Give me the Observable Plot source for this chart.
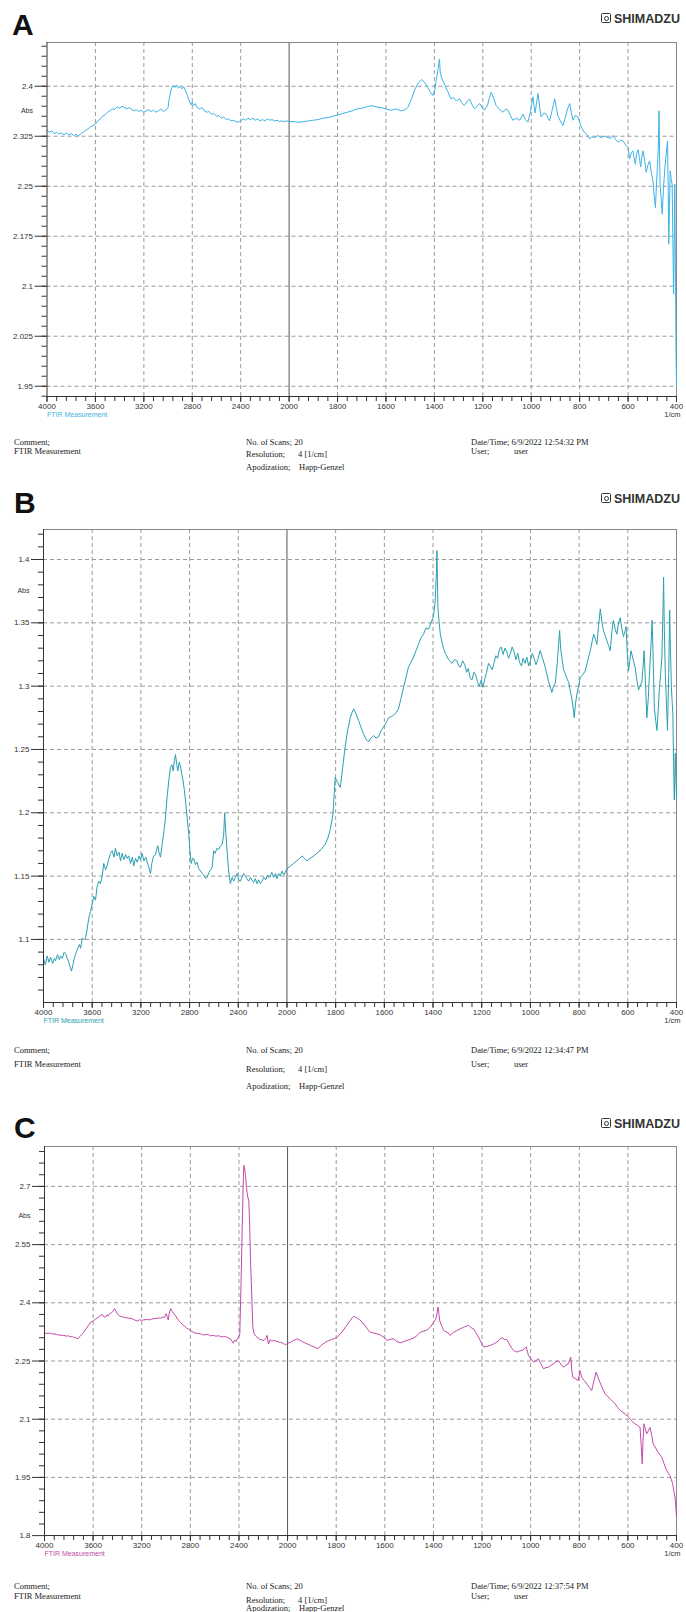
<!DOCTYPE html>
<html><head><meta charset="utf-8">
<script src="https://cdn.jsdelivr.net/npm/d3@7"></script>
<script src="https://cdn.jsdelivr.net/npm/@observablehq/plot@0.6"></script>
<style>
html,body{margin:0;padding:0;background:#fff}
body{width:686px;height:1612px;position:relative;overflow:hidden}
.abs{position:absolute;white-space:pre;line-height:1}
.letter{font:bold 30px "Liberation Sans",Arial,sans-serif;color:#111}
.logo{font:bold 12.5px "Liberation Sans",Arial,sans-serif;color:#333}
.icon{position:absolute;width:8px;height:8px;border:1.5px solid #333;border-radius:1.5px}
.icon::after{content:"";position:absolute;left:1.5px;top:1.5px;width:3px;height:3px;border:1px solid #333;border-radius:50%}
.foot{font:8.5px "Liberation Serif","Times New Roman",serif;color:#222}
.plotwrap{position:absolute;left:0}
</style></head><body>
<script>
// ---------------- DATA ----------------
const xTicks = [4000, 3600, 3200, 2800, 2400, 2000, 1800, 1600, 1400, 1200, 1000, 800, 600, 400];

// Panel A
const yTicksA = [1.95, 2.025, 2.1, 2.175, 2.25, 2.325, 2.4];
const wnA = [4000,3980,3960,3940,3920,3900,3880,3860,3840,3820,3800,3780,3760,3740,3720,3700,3680,3660,3640,3620,3600,3580,3560,3540,3520,3500,3480,3460,3440,3420,3400,3380,3360,3340,3320,3300,3280,3260,3240,3220,3200,3180,3160,3140,3120,3100,3080,3060,3040,3020,3000,2990,2975,2960,2945,2930,2915,2900,2885,2870,2855,2840,2825,2810,2800,2790,2775,2760,2740,2720,2700,2680,2660,2640,2620,2600,2580,2560,2540,2520,2500,2480,2460,2440,2420,2400,2380,2360,2340,2320,2300,2280,2260,2240,2220,2200,2180,2160,2140,2120,2100,2080,2060,2040,2020,2000,
1980,1960,1940,1920,1900,1880,1860,1840,1820,1800,1780,1760,1740,1720,1700,1680,1660,1640,1620,1600,1578,1560,1537,1520,1510,1495,1482,1467,1452,1440,1427,1415,1406,1398,1393,1385,1379,1376,1370,1358,1345,1331,1320,1310,1296,1285,1276,1265,1255,1244,1234,1224,1213,1203,1193,1180,1172,1165,1155,1145,1130,1117,1105,1096,1086,1076,1060,1048,1040,1034,1024,1014,1003,993,988,984,978,972,965,959,948,938,930,924,915,908,903,896,890,880,869,860,850,841,834,828,818,807,800,793,783,773,765,759,750,738,725,711,698,683,672,662,651,641,631,621,610,600,594,587,580,575,570,565,559,553,548,543,538,531,525,518,511,504,497,492,487,483,479,475,472,470,468,463,459,454,448,442,437,434,432,429,426,422,418,415,412,409,407,404,402,400];
const absA = [2.334,2.331,2.333,2.329,2.331,2.328,2.330,2.327,2.330,2.327,2.329,2.326,2.328,2.325,2.329,2.331,2.334,2.336,2.339,2.341,2.343,2.348,2.351,2.355,2.357,2.361,2.363,2.366,2.365,2.369,2.367,2.370,2.368,2.366,2.368,2.365,2.363,2.365,2.362,2.364,2.361,2.363,2.365,2.362,2.364,2.361,2.363,2.366,2.362,2.364,2.368,2.382,2.395,2.401,2.398,2.402,2.397,2.400,2.396,2.399,2.393,2.386,2.378,2.372,2.376,2.371,2.374,2.368,2.366,2.368,2.363,2.361,2.362,2.358,2.359,2.355,2.356,2.352,2.354,2.350,2.351,2.348,2.349,2.347,2.346,2.348,2.351,2.349,2.352,2.350,2.352,2.349,2.351,2.348,2.350,2.348,2.351,2.349,2.350,2.348,2.349,2.347,2.348,2.347,2.348,2.347,
2.347,2.346,2.347,2.348,2.349,2.350,2.352,2.353,2.355,2.357,2.359,2.361,2.363,2.366,2.367,2.369,2.371,2.369,2.368,2.366,2.364,2.366,2.363,2.365,2.368,2.380,2.394,2.405,2.410,2.406,2.398,2.390,2.386,2.395,2.408,2.425,2.441,2.421,2.412,2.403,2.392,2.381,2.383,2.378,2.381,2.374,2.371,2.377,2.381,2.372,2.366,2.370,2.374,2.368,2.364,2.372,2.384,2.391,2.382,2.371,2.365,2.361,2.366,2.364,2.356,2.349,2.352,2.349,2.354,2.358,2.350,2.346,2.362,2.384,2.370,2.360,2.375,2.389,2.368,2.354,2.360,2.358,2.352,2.348,2.362,2.373,2.381,2.368,2.356,2.348,2.341,2.352,2.366,2.374,2.360,2.349,2.356,2.354,2.346,2.339,2.332,2.329,2.325,2.321,2.324,2.323,2.326,2.323,2.325,2.323,2.322,2.326,2.320,2.316,2.319,2.318,2.312,2.308,2.291,2.300,2.303,2.293,2.283,2.298,2.305,2.292,2.279,2.294,2.303,2.287,2.271,2.282,2.288,2.270,2.258,2.235,2.218,2.250,2.278,2.310,2.363,2.300,2.254,2.230,2.208,2.245,2.278,2.300,2.318,2.240,2.163,2.220,2.273,2.260,2.253,2.170,2.088,2.180,2.253,2.100,2.000,1.950];

// Panel B
const yTicksB = [1.1, 1.15, 1.2, 1.25, 1.3, 1.35, 1.4];
const wnB = [4000,3985,3970,3955,3942,3925,3910,3901,3885,3870,3860,3845,3830,3819,3805,3792,3780,3770,3758,3745,3730,3718,3705,3695,3682,3668,3655,3645,3636,3625,3614,3600,3587,3573,3559,3545,3532,3518,3505,3490,3477,3465,3450,3436,3420,3409,3395,3380,3367,3354,3340,3325,3313,3300,3285,3270,3258,3245,3230,3215,3203,3190,3175,3160,3148,3135,3121,3110,3095,3080,3070,3061,3050,3039,3025,3010,2998,2985,2970,2957,2945,2935,2925,2916,2905,2897,2885,2875,2865,2853,2843,2834,2820,2807,2797,2787,2775,2766,2752,2738,2725,2711,2695,2680,2666,2656,2640,2626,2615,2602,2590,2575,2561,2545,2533,2520,2512,2502,2492,2480,2465,2450,2438,2424,2410,2395,2383,2370,2355,2342,2330,2315,2300,2288,2274,2260,2246,2232,2219,2205,2190,2175,2160,2150,2137,2125,2110,2095,2082,2068,2055,2040,2026,2014,2000,
1985,1973,1960,1948,1938,1928,1918,1905,1890,1877,1860,1843,1832,1822,1811,1802,1792,1781,1771,1761,1750,1740,1733,1726,1716,1706,1695,1685,1675,1665,1655,1644,1634,1624,1613,1603,1593,1583,1572,1562,1552,1542,1532,1521,1511,1501,1490,1480,1470,1460,1450,1439,1429,1418,1409,1400,1395,1391,1386,1384,1382,1380,1375,1370,1360,1350,1336,1322,1312,1302,1295,1288,1278,1270,1262,1255,1247,1240,1232,1225,1217,1210,1202,1195,1187,1180,1172,1165,1157,1150,1142,1135,1127,1120,1112,1105,1097,1090,1082,1075,1067,1060,1052,1045,1037,1030,1022,1015,1007,1000,992,985,977,970,960,950,939,926,912,905,898,890,880,876,871,864,857,850,843,836,829,824,820,815,809,802,795,785,775,765,754,747,740,733,727,720,713,706,700,693,686,679,672,665,659,652,645,638,631,625,618,612,607,602,597,592,587,578,570,563,556,549,542,537,533,527,522,516,511,505,500,495,491,485,480,475,470,465,460,456,453,450,446,441,437,432,428,425,421,418,415,412,409,407,405,402,400];
const absB = [1.085,1.080,1.087,1.082,1.086,1.081,1.085,1.083,1.088,1.084,1.087,1.085,1.090,1.089,1.085,1.082,1.078,1.075,1.080,1.086,1.090,1.093,1.096,1.093,1.101,1.100,1.101,1.106,1.112,1.118,1.122,1.128,1.134,1.131,1.142,1.146,1.144,1.150,1.160,1.155,1.158,1.163,1.168,1.170,1.165,1.172,1.166,1.169,1.162,1.168,1.163,1.167,1.164,1.166,1.160,1.165,1.158,1.164,1.161,1.166,1.163,1.168,1.162,1.165,1.161,1.157,1.152,1.160,1.166,1.167,1.171,1.174,1.168,1.165,1.175,1.186,1.196,1.212,1.226,1.236,1.238,1.233,1.241,1.246,1.238,1.233,1.240,1.237,1.231,1.225,1.218,1.210,1.196,1.183,1.170,1.160,1.164,1.164,1.159,1.161,1.156,1.154,1.152,1.150,1.148,1.149,1.153,1.155,1.157,1.170,1.168,1.172,1.171,1.174,1.175,1.182,1.200,1.184,1.170,1.155,1.144,1.149,1.146,1.149,1.152,1.147,1.146,1.149,1.152,1.150,1.148,1.146,1.149,1.147,1.145,1.148,1.144,1.147,1.144,1.146,1.149,1.147,1.151,1.149,1.150,1.153,1.149,1.152,1.148,1.152,1.150,1.154,1.151,1.153,1.156,
1.158,1.160,1.162,1.164,1.166,1.164,1.162,1.164,1.166,1.168,1.171,1.175,1.180,1.187,1.199,1.228,1.224,1.220,1.236,1.252,1.266,1.275,1.279,1.282,1.278,1.273,1.267,1.262,1.258,1.256,1.259,1.261,1.259,1.260,1.265,1.268,1.271,1.275,1.276,1.277,1.279,1.282,1.290,1.299,1.307,1.315,1.319,1.323,1.328,1.333,1.338,1.341,1.346,1.345,1.350,1.354,1.360,1.368,1.390,1.407,1.385,1.362,1.350,1.341,1.332,1.326,1.321,1.318,1.321,1.320,1.316,1.315,1.320,1.317,1.311,1.314,1.306,1.305,1.311,1.309,1.303,1.300,1.305,1.299,1.306,1.311,1.318,1.316,1.313,1.318,1.324,1.322,1.329,1.331,1.325,1.330,1.327,1.322,1.326,1.331,1.327,1.321,1.326,1.319,1.316,1.322,1.318,1.323,1.316,1.320,1.326,1.322,1.317,1.321,1.328,1.322,1.315,1.304,1.295,1.300,1.302,1.318,1.344,1.330,1.323,1.313,1.310,1.306,1.303,1.296,1.289,1.282,1.275,1.286,1.294,1.300,1.307,1.309,1.312,1.320,1.328,1.335,1.341,1.337,1.333,1.348,1.361,1.350,1.344,1.340,1.336,1.332,1.328,1.344,1.352,1.345,1.341,1.350,1.354,1.346,1.339,1.343,1.347,1.325,1.312,1.320,1.328,1.321,1.315,1.305,1.297,1.300,1.304,1.316,1.328,1.300,1.275,1.290,1.310,1.332,1.352,1.315,1.283,1.272,1.265,1.282,1.299,1.310,1.323,1.355,1.386,1.345,1.310,1.285,1.265,1.310,1.360,1.330,1.299,1.288,1.278,1.240,1.210,1.228,1.247,1.225,1.212];

// Panel C
const yTicksC = [1.8, 1.95, 2.1, 2.25, 2.4, 2.55, 2.7];
const wnC = [4000,3980,3960,3940,3923,3900,3880,3860,3841,3820,3800,3790,3772,3760,3745,3726,3710,3695,3677,3660,3640,3621,3600,3580,3566,3550,3540,3525,3512,3498,3485,3475,3463,3450,3437,3424,3410,3397,3380,3365,3347,3320,3300,3278,3260,3237,3220,3200,3183,3160,3140,3120,3100,3080,3060,3045,3031,3015,3005,2998,2990,2982,2975,2963,2950,2936,2920,2910,2895,2880,2865,2853,2830,2815,2798,2780,2760,2740,2716,2700,2680,2660,2640,2634,2610,2590,2570,2552,2530,2510,2490,2470,2460,2448,2435,2425,2414,2400,2393,2383,2373,2366,2360,2353,2346,2339,2332,2326,2319,2312,2305,2295,2286,2275,2262,2250,2230,2210,2195,2180,2168,2162,2155,2145,2130,2113,2095,2075,2058,2040,2025,2016,2000,
1988,1975,1960,1945,1930,1919,1905,1890,1875,1862,1850,1837,1820,1808,1796,1780,1762,1745,1735,1728,1715,1703,1693,1680,1670,1659,1645,1632,1618,1604,1591,1578,1563,1550,1536,1522,1508,1495,1481,1467,1454,1440,1426,1412,1399,1392,1388,1381,1377,1374,1366,1358,1348,1338,1331,1324,1317,1304,1290,1275,1265,1255,1245,1235,1224,1214,1204,1194,1180,1166,1152,1139,1128,1118,1108,1098,1088,1077,1067,1057,1046,1036,1027,1018,1009,998,988,978,968,958,947,937,927,916,906,896,886,876,865,855,845,835,831,827,815,804,797,790,780,769,759,749,740,731,723,715,705,694,684,674,663,653,643,632,622,612,601,591,581,571,560,550,545,541,538,534,528,523,516,509,502,496,486,476,468,461,451,441,434,427,421,416,411,406,403,400];
const absC = [2.322,2.321,2.322,2.320,2.320,2.318,2.317,2.316,2.316,2.314,2.315,2.312,2.313,2.311,2.310,2.307,2.313,2.318,2.324,2.332,2.341,2.350,2.353,2.358,2.361,2.364,2.368,2.370,2.364,2.363,2.369,2.366,2.372,2.374,2.378,2.385,2.377,2.370,2.366,2.364,2.363,2.361,2.360,2.359,2.356,2.353,2.356,2.355,2.356,2.357,2.356,2.358,2.359,2.360,2.361,2.360,2.363,2.362,2.368,2.372,2.362,2.356,2.370,2.385,2.378,2.372,2.366,2.360,2.354,2.349,2.344,2.341,2.335,2.332,2.329,2.325,2.322,2.321,2.320,2.318,2.317,2.319,2.316,2.315,2.316,2.314,2.315,2.313,2.312,2.313,2.310,2.307,2.302,2.296,2.304,2.300,2.307,2.313,2.320,2.450,2.595,2.700,2.754,2.745,2.728,2.700,2.681,2.670,2.664,2.600,2.509,2.420,2.337,2.320,2.314,2.311,2.306,2.304,2.303,2.308,2.316,2.300,2.294,2.305,2.301,2.303,2.301,2.299,2.298,2.296,2.293,2.292,2.296,
2.298,2.303,2.307,2.302,2.297,2.294,2.290,2.286,2.282,2.290,2.296,2.301,2.305,2.308,2.311,2.322,2.337,2.352,2.361,2.365,2.361,2.356,2.350,2.340,2.331,2.324,2.322,2.320,2.317,2.311,2.303,2.306,2.307,2.300,2.297,2.300,2.303,2.306,2.309,2.316,2.324,2.327,2.330,2.338,2.350,2.356,2.363,2.389,2.370,2.354,2.340,2.329,2.325,2.322,2.316,2.320,2.324,2.328,2.333,2.337,2.340,2.342,2.336,2.333,2.322,2.311,2.298,2.286,2.288,2.290,2.294,2.299,2.305,2.310,2.306,2.305,2.294,2.282,2.276,2.273,2.276,2.277,2.281,2.286,2.264,2.255,2.247,2.251,2.256,2.243,2.230,2.233,2.234,2.239,2.243,2.248,2.251,2.242,2.234,2.239,2.243,2.260,2.228,2.208,2.204,2.200,2.225,2.208,2.200,2.191,2.182,2.174,2.198,2.221,2.208,2.195,2.180,2.166,2.159,2.153,2.146,2.140,2.131,2.123,2.118,2.114,2.107,2.101,2.094,2.088,2.084,2.079,2.030,1.985,2.040,2.088,2.075,2.062,2.070,2.079,2.058,2.037,2.026,2.015,2.008,2.002,1.985,1.968,1.961,1.955,1.944,1.934,1.915,1.899,1.875,1.848];

const panels = [
  {letter: "A", wn: wnA, ab: absA, color: "#3db3e6", yTicks: yTicksA, yStep: 0.075, yDomain: [1.9346, 2.4656],
   left: 46.5, top: 42, bottom: 396, letterX: 12, letterTop: 8, logoTop: 12, date: "6/9/2022 12:54:32 PM",
   foot: [442, 451, 454, 467]},
  {letter: "B", wn: wnB, ab: absB, color: "#2a9fb2", yTicks: yTicksB, yStep: 0.05, yDomain: [1.0502, 1.4237],
   left: 43, top: 529, bottom: 1002, letterX: 14, letterTop: 486, logoTop: 492, date: "6/9/2022 12:34:47 PM",
   foot: [1050, 1064, 1069, 1086]},
  {letter: "C", wn: wnC, ab: absC, color: "#c24aa8", yTicks: yTicksC, yStep: 0.15, yDomain: [1.8003, 2.8028],
   left: 44, top: 1146, bottom: 1535, letterX: 14, letterTop: 1111, logoTop: 1117, date: "6/9/2022 12:37:54 PM",
   foot: [1586, 1596, 1600, 1608]}
];

// ---------------- DRAW ----------------
const body = document.body;
function addDiv(cls, text, x, y) {
  const d = document.createElement("div");
  d.className = "abs " + cls;
  d.textContent = text;
  d.style.left = x + "px";
  d.style.top = y + "px";
  body.appendChild(d);
  return d;
}
const tickFont = '"Liberation Sans Narrow","Arial Narrow","Liberation Sans",Arial,sans-serif';
const fmt = d => String(+(+d).toFixed(3));
// Shimadzu-style axis: 4000-2000 and 2000-400 drawn with equal spacing per gridline
const wavenumberTransform = x => x >= 2000 ? (4000 - x) / 400 : 5 + (2000 - x) / 200;

for (const p of panels) {
  const right = 676, mT = 10, mB = 30;
  const frameH = p.bottom - p.top;
  const h = mT + frameH + mB;
  const data = p.wn.map((x, i) => ({x, y: p.ab[i]}));
  const s = p.yStep / 5;
  const yMinor = [];
  for (let v = p.yTicks[0]; v >= p.yDomain[0] - 1e-9; v -= s) yMinor.push(v);
  for (let v = p.yTicks[0] + s; v <= p.yDomain[1] + 1e-9; v += s) yMinor.push(v);
  const xMinor = [...d3.range(4000, 2000, -80), ...d3.range(2000, 399, -40)];
  const xGrid = xTicks.filter(d => d !== 4000 && d !== 400 && d !== 2000);
  const absMid = (p.yTicks[p.yTicks.length - 1] + p.yTicks[p.yTicks.length - 2]) / 2;

  const chart = Plot.plot({
    width: 686, height: h,
    marginLeft: p.left, marginRight: 686 - right, marginTop: mT, marginBottom: mB,
    style: {background: "transparent", fontFamily: tickFont, fontSize: "8px", color: "#333", overflow: "visible"},
    x: {transform: wavenumberTransform, axis: null},
    y: {domain: p.yDomain},
    marks: [
      Plot.ruleX(xGrid, {stroke: "#9a9a9a", strokeDasharray: "4,3", strokeWidth: 1}),
      Plot.ruleY(p.yTicks, {stroke: "#9a9a9a", strokeDasharray: "4,3", strokeWidth: 1}),
      Plot.ruleX([2000], {stroke: "#555", strokeWidth: 1}),
      Plot.ruleX([400], {stroke: "#888", strokeWidth: 1}),
      Plot.ruleY([p.yDomain[1]], {stroke: "#888", strokeWidth: 1}),
      Plot.line(data, {x: "x", y: "y", stroke: p.color, strokeWidth: 1}),
      Plot.ruleX([4000], {stroke: "#333", strokeWidth: 1}),
      Plot.ruleY([p.yDomain[0]], {stroke: "#333", strokeWidth: 1}),
      // y axis: minor and major ticks with labels
      Plot.axisY({ticks: yMinor, tickSize: 5, tickFormat: () => "", label: null, stroke: "#333"}),
      Plot.axisY({ticks: p.yTicks, tickSize: 12, tickPadding: 2, tickFormat: fmt, label: null, stroke: "#333", fill: "#333", fontSize: 8}),
      // x axis: ticks hanging below the frame, and labels
      Plot.ruleX(xMinor, {stroke: "#333", strokeWidth: 1, insetTop: frameH, insetBottom: -5}),
      Plot.ruleX(xTicks, {stroke: "#333", strokeWidth: 1, insetTop: frameH, insetBottom: -6}),
      Plot.text(xTicks, {x: d => d, text: d => String(d), frameAnchor: "bottom", dy: 12, fontSize: 8, fill: "#333"}),
      Plot.text([absMid], {y: d => d, text: () => "Abs", frameAnchor: "left", dx: -14, textAnchor: "end", fontSize: 7, fill: "#333"}),
      Plot.text(["FTIR Measurement"], {text: d => d, frameAnchor: "bottom-left", dx: 0, dy: 20, textAnchor: "start", fontSize: 7, fill: p.color}),
      Plot.text(["1/cm"], {text: d => d, frameAnchor: "bottom-right", dx: 4, dy: 20, textAnchor: "end", fontSize: 7.5, fill: "#333"})
    ]
  });
  const wrap = document.createElement("div");
  wrap.className = "plotwrap";
  wrap.style.top = (p.top - mT) + "px";
  wrap.appendChild(chart);
  body.appendChild(wrap);

  addDiv("letter", p.letter, p.letterX, p.letterTop);
  const icon = document.createElement("div");
  icon.className = "icon";
  icon.style.left = "601px"; icon.style.top = (p.logoTop + 1) + "px";
  body.appendChild(icon);
  addDiv("logo", "SHIMADZU", 614, p.logoTop);

  const [l1, l2, l3, l4] = p.foot.map(v => v - 5);
  addDiv("foot", "Comment;", 14, l1);
  addDiv("foot", "FTIR Measurement", 14, l2);
  addDiv("foot", "No. of Scans; 20", 246, l1);
  addDiv("foot", "Resolution;", 246, l3);
  addDiv("foot", "4 [1/cm]", 298, l3);
  addDiv("foot", "Apodization;", 246, l4);
  addDiv("foot", "Happ-Genzel", 299, l4);
  addDiv("foot", "Date/Time; " + p.date, 471, l1);
  addDiv("foot", "User;", 471, l2);
  addDiv("foot", "user", 514, l2);
}
</script>
</body></html>
